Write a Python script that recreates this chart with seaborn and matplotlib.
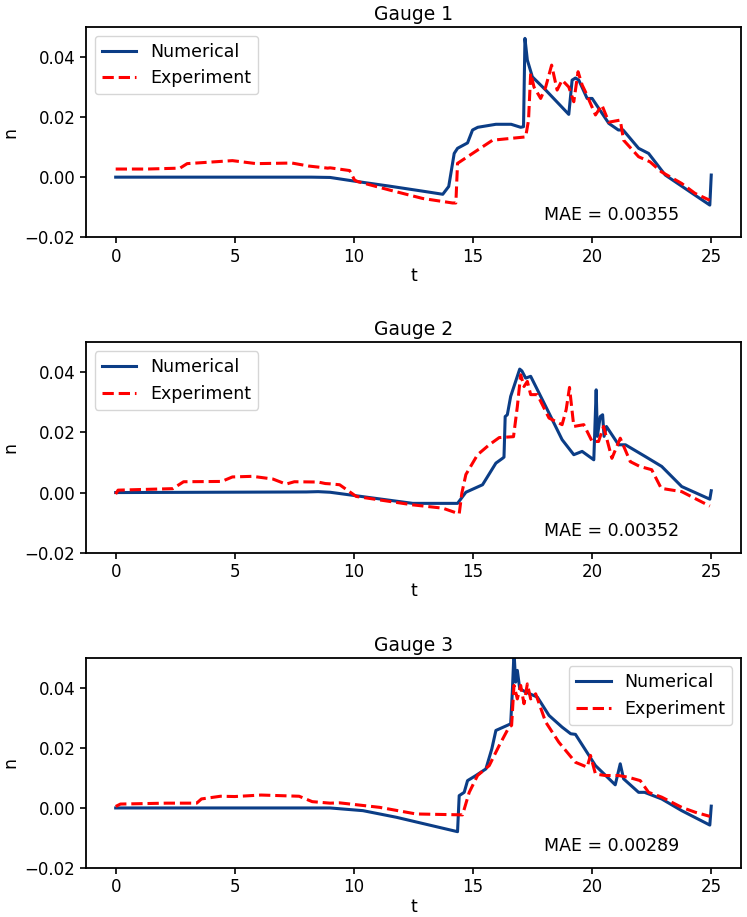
import numpy as np
import pandas as pd
import matplotlib
matplotlib.use("Agg")
import matplotlib.pyplot as plt
import seaborn as sns

# Gauge 1
t_num1 = [0, 8.2, 9.0, 10.0, 11.5, 13.0, 13.73, 13.98, 14.21, 14.35, 14.77, 14.98, 15.2, 15.96, 16.6, 17.0,
          17.12, 17.18, 17.28, 17.49, 18.05, 19.02, 19.16, 19.3, 19.44, 19.79, 20.0, 20.7, 21.1, 21.3, 21.95,
          22.37, 23.07, 24.32, 24.94, 25.0]
n_num1 = [0, 0, -0.0001, -0.0013, -0.003, -0.0048, -0.0057, -0.0031, 0.0079, 0.0096, 0.0114, 0.0157, 0.0166,
          0.0176, 0.0176, 0.0166, 0.0168, 0.0462, 0.039, 0.0334, 0.029, 0.0209, 0.0323, 0.033, 0.0323, 0.0262,
          0.0262, 0.0179, 0.0157, 0.0157, 0.0096, 0.0079, 0.0007, -0.006, -0.0093, 0.0007]
t_exp1 = [0, 1.3, 2.7, 3.0, 4.9, 5.9, 7.4, 8.1, 8.9, 9.0, 9.82, 10.03, 10.17, 11.5, 12.89, 14.14, 14.28, 14.35,
          14.98, 15.82, 17.21, 17.33, 17.42, 17.56, 17.84, 18.05, 18.3, 18.53, 18.74, 19.02, 19.23, 19.41, 19.58,
          19.72, 20.14, 20.41, 20.7, 21.18, 21.32, 21.95, 22.43, 22.9, 23.76, 24.32, 24.94]
n_exp1 = [0.0027, 0.0027, 0.003, 0.0045, 0.0055, 0.0045, 0.0047, 0.0037, 0.003, 0.0031, 0.0022, -0.001, -0.0015,
          -0.0043, -0.0071, -0.0086, -0.0086, 0.0046, 0.0079, 0.0123, 0.0134, 0.019, 0.0346, 0.030, 0.0262, 0.030,
          0.0373, 0.029, 0.0323, 0.030, 0.0251, 0.0351, 0.0307, 0.0284, 0.0207, 0.024, 0.0183, 0.019, 0.0123,
          0.0068, 0.0051, 0.0018, -0.0021, -0.0054, -0.0077]

# Gauge 2
t_num2 = [0, 8.0, 8.5, 9.0, 10.5, 12.47, 14.35, 14.7, 15.4, 15.96, 16.24, 16.3, 16.35, 16.44, 16.58, 16.96, 17.05,
          17.21, 17.42, 18.05, 18.74, 19.23, 19.58, 20.07, 20.17, 20.22, 20.34, 20.44, 20.5, 20.6, 21.11, 21.4,
          22.23, 22.92, 23.76, 24.94, 25.0]
n_num2 = [0, 0.0002, 0.0003, 0.0001, -0.0015, -0.0036, -0.0036, 0.0001, 0.0026, 0.0098, 0.0114, 0.0118, 0.0253,
          0.0259, 0.032, 0.0411, 0.0405, 0.0381, 0.0387, 0.0287, 0.0176, 0.0126, 0.0137, 0.0109, 0.0342, 0.0187,
          0.0253, 0.0259, 0.0187, 0.022, 0.0159, 0.0159, 0.012, 0.0087, 0.002, -0.0022, 0.0006]
t_exp2 = [0, 0.1, 2.4, 2.85, 4.45, 4.9, 5.75, 6.6, 7.15, 7.5, 8.5, 8.8, 9.0, 9.4, 10.1, 12.47, 13.73, 14.42, 14.53,
          14.7, 15.19, 15.68, 16.1, 16.7, 16.86, 17.0, 17.14, 17.28, 17.42, 17.7, 18.19, 18.74, 18.91, 19.05, 19.23,
          19.65, 20.0, 20.27, 20.48, 20.83, 21.18, 21.6, 22.0, 22.5, 22.9, 23.76, 24.94]
n_exp2 = [-0.0005, 0.0008, 0.0013, 0.0036, 0.0037, 0.0052, 0.0054, 0.0045, 0.0028, 0.0036, 0.0035, 0.003, 0.0029,
          0.0026, -0.0013, -0.0041, -0.0052, -0.0071, -0.0002, 0.006, 0.0126, 0.0159, 0.0183, 0.0186, 0.0286,
          0.0392, 0.0353, 0.037, 0.0326, 0.0326, 0.0248, 0.0226, 0.0276, 0.035, 0.022, 0.0226, 0.017, 0.017,
          0.022, 0.0114, 0.0181, 0.0103, 0.0087, 0.0076, 0.0014, 0.0003, -0.0045]

# Gauge 3
t_num3 = [0, 8.5, 9.0, 10.38, 11.78, 14.35, 14.42, 14.63, 14.77, 15.12, 15.54, 15.79, 15.96, 16.58, 16.65, 16.72,
          16.79, 16.86, 16.96, 17.21, 17.7, 18.19, 18.74, 19.1, 19.3, 20.14, 20.97, 21.18, 21.32, 21.95, 22.2,
          22.92, 23.76, 24.94, 25.0]
n_num3 = [0, 0, 0, -0.0009, -0.0031, -0.0079, 0.0041, 0.0052, 0.0091, 0.0108, 0.013, 0.0197, 0.0258, 0.028,
          0.0386, 0.052, 0.0419, 0.0458, 0.0397, 0.0386, 0.0369, 0.0308, 0.0269, 0.0247, 0.0245, 0.0141, 0.0077,
          0.0147, 0.0097, 0.0052, 0.0052, 0.003, -0.0009, -0.0057, 0.0006]
t_exp3 = [0, 0.2, 2.15, 3.4, 3.6, 4.4, 5.0, 6.1, 7.7, 8.25, 9.0, 9.4, 11.08, 12.61, 14.56, 14.84, 15.19, 15.68,
          16.1, 16.51, 16.62, 16.72, 16.86, 17.0, 17.14, 17.28, 17.42, 17.63, 18.05, 18.6, 19.3, 19.79, 19.93,
          20.14, 20.55, 21.11, 21.53, 22.02, 22.37, 22.92, 23.76, 24.32, 24.94]
n_exp3 = [0.0005, 0.0013, 0.0016, 0.0016, 0.003, 0.0039, 0.0038, 0.0043, 0.0039, 0.0021, 0.0016, 0.0017, 0.0002,
          -0.002, -0.0023, 0.0052, 0.0108, 0.0141, 0.0208, 0.0269, 0.0275, 0.0408, 0.0363, 0.0408, 0.0347, 0.0413,
          0.0363, 0.038, 0.0286, 0.0219, 0.0152, 0.0136, 0.0175, 0.0113, 0.0108, 0.0108, 0.0102, 0.0091, 0.0052,
          0.0036, 0.0002, -0.0014, -0.0028]

titles = ["Gauge 1", "Gauge 2", "Gauge 3"]
mae = ["MAE = 0.00355", "MAE = 0.00352", "MAE = 0.00289"]
legend_loc = ["upper left", "upper left", "upper right"]

gauges = [(t_num1, n_num1, t_exp1, n_exp1),
          (t_num2, n_num2, t_exp2, n_exp2),
          (t_num3, n_num3, t_exp3, n_exp3)]

plt.rcParams['font.family'] = ['DejaVu Sans']
plt.rcParams['axes.linewidth'] = 1.3

fig, axes = plt.subplots(3, 1, figsize=(7.47, 9.17), dpi=100)
fig.subplots_adjust(left=0.115, right=0.992, top=0.9706, bottom=0.0534, hspace=0.5)

for i, ax in enumerate(axes):
    tn, nn, te, ne = gauges[i]
    df_num = pd.DataFrame({'t': tn, 'n': nn})
    df_exp = pd.DataFrame({'t': te, 'n': ne})
    sns.lineplot(data=df_num, x='t', y='n', ax=ax, color='#0b3d86', lw=2.2, label='Numerical',
                 sort=False, estimator=None)
    sns.lineplot(data=df_exp, x='t', y='n', ax=ax, color='#ff0000', lw=2.2, linestyle='--',
                 label='Experiment', sort=False, estimator=None)
    ax.set_ylim(-0.02, 0.05)
    ax.set_xlim(-1.25, 26.25)
    ax.set_xticks([0, 5, 10, 15, 20, 25])
    ax.set_yticks([-0.02, 0.0, 0.02, 0.04])
    ax.tick_params(labelsize=12, width=1.2, length=4)
    ax.set_title(titles[i], fontsize=13.5, pad=5)
    ax.set_xlabel('t', fontsize=12.5, labelpad=1)
    ax.set_ylabel('n', fontsize=12.5)
    ax.text(0.70, 0.105, mae[i], transform=ax.transAxes, fontsize=12.5, va='center')
    ax.legend(loc=legend_loc[i], fontsize=12.5)

plt.savefig('out.png', dpi=100)
